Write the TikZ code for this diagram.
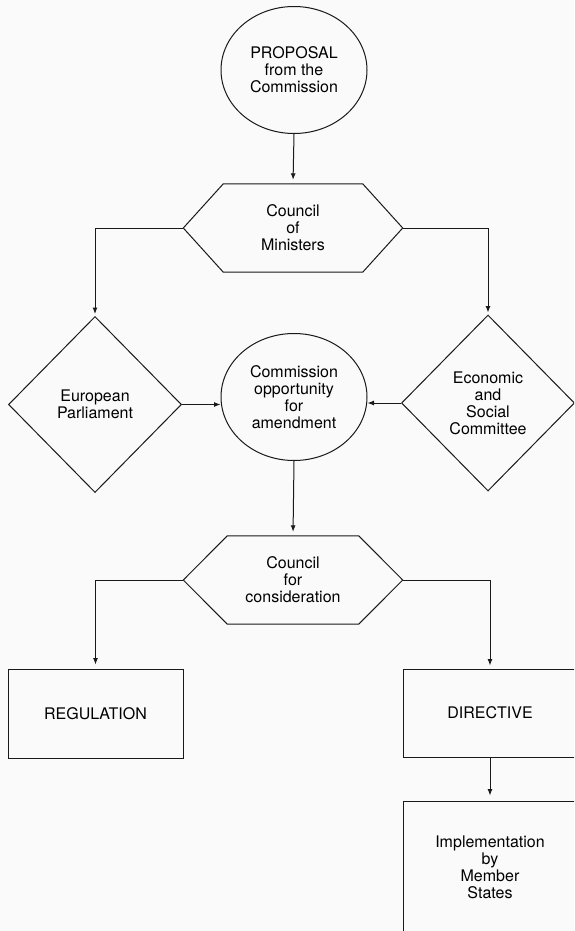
\documentclass[tikz,border=0pt]{standalone}
\usepackage{fontspec}
\setmainfont{TeX Gyre Heros}
\usetikzlibrary{shapes.geometric,arrows.meta,calc}
\begin{document}
\begin{tikzpicture}[x=1pt,y=-1pt,
  lbl/.style={align=center,font=\fontsize{16}{17}\selectfont,text=black},
  ln/.style={line width=1pt,draw=black!90},
  arr/.style={ln,-{Latex[length=6.5pt,width=5pt]},shorten >=2pt},
  oval/.style={lbl,ln,ellipse,inner sep=0pt,minimum width=146pt,minimum height=127pt},
  dia/.style={lbl,ln,diamond,inner sep=0pt,minimum width=173pt,minimum height=176pt},
  hexa/.style={lbl,inner sep=0pt,minimum width=219pt,minimum height=88pt},
  boxx/.style={lbl,ln,rectangle,inner sep=0pt}
]
\useasboundingbox (0,0) rectangle (574,931);
\clip (0,0) rectangle (574,931);
\fill[white!98!black] (0,0) rectangle (574,931);

% nodes
\node[oval] (prop) at (294,70) {PROPOSAL\\from the\\Commission};
\node[hexa] (com1) at (293,228) {Council\\of\\Ministers};
\node[dia] (ep) at (95,404.5) {European\\Parliament};
\node[dia] (esc) at (488,403) {Economic\\and\\Social\\Committee};
\node[oval] (cam) at (294,397) {Commission\\opportunity\\for\\amendment};
\node[hexa] (cc) at (293,580) {Council\\for\\consideration};
\node[boxx,minimum width=175pt,minimum height=89pt] (reg) at (95.5,713.5) {REGULATION};
\node[boxx,minimum width=174pt,minimum height=88pt] (dir) at (490,713) {DIRECTIVE};
\node[boxx,minimum width=174pt,minimum height=132pt] (impl) at (490,867) {Implementation\\by\\Member\\States};

% hexagon outlines
\draw[ln] (com1.west) -- ($(com1.north west)+(40,0)$) -- ($(com1.north east)+(-40,0)$) -- (com1.east)
  -- ($(com1.south east)+(-40,0)$) -- ($(com1.south west)+(40,0)$) -- cycle;
\draw[ln] (cc.west) -- ($(cc.north west)+(44,0)$) -- ($(cc.north east)+(-44,0)$) -- (cc.east)
  -- ($(cc.south east)+(-44,0)$) -- ($(cc.south west)+(44,0)$) -- cycle;

% connectors
\draw[arr,shorten >=4pt] (prop.south) -- (com1.north);
\draw[arr] (com1.west) -| (ep.north);
\draw[arr] (com1.east) -| (esc.north);
\draw[arr,shorten >=0pt] (ep.east) -- (ep.east -| cam.west);
\draw[arr,shorten >=0pt] (esc.west) -- (esc.west -| cam.east);
\draw[arr,shorten >=4pt] (cam.south) -- (cc.north);
\draw[arr,shorten >=4pt] (cc.west) -| (reg.north);
\draw[arr,shorten >=3pt] (cc.east) -| (dir.north);
\draw[arr,shorten >=5pt] (dir.south) -- (impl.north);
\end{tikzpicture}
\end{document}
